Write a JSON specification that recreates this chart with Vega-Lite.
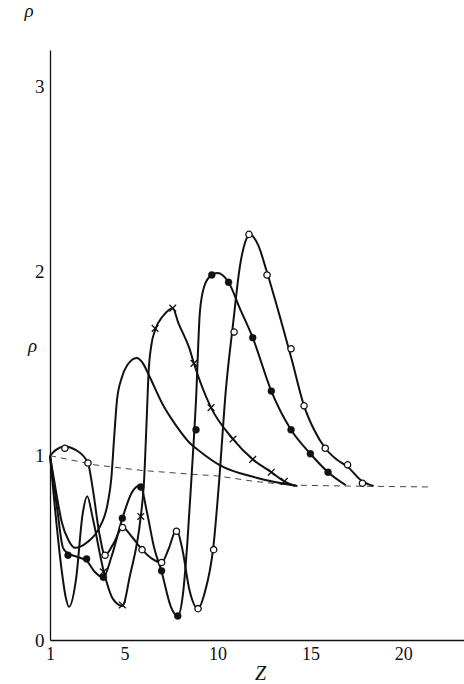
{
  "$schema": "https://vega.github.io/schema/vega-lite/v6.json",
  "width": 414,
  "height": 590,
  "autosize": {"type": "none"},
  "padding": {"left": 50, "top": 50, "right": 0, "bottom": 44},
  "background": "white",
  "title": {
    "text": "ρ",
    "frame": "group",
    "anchor": "start",
    "align": "center",
    "baseline": "alphabetic",
    "dx": -21,
    "offset": 14,
    "font": "Liberation Serif",
    "fontStyle": "italic",
    "fontWeight": "normal",
    "fontSize": 19,
    "color": "#111"
  },
  "config": {"view": {"stroke": null}},
  "datasets": {
    "curves": [
      {"series": "open", "z": 1, "rho": 1.0},
      {"series": "open", "z": 1.3, "rho": 1.03},
      {"series": "open", "z": 1.8, "rho": 1.05},
      {"series": "open", "z": 2.4, "rho": 1.03},
      {"series": "open", "z": 3.04, "rho": 0.96},
      {"series": "open", "z": 3.3, "rho": 0.82},
      {"series": "open", "z": 3.65, "rho": 0.58},
      {"series": "open", "z": 3.96, "rho": 0.46},
      {"series": "open", "z": 4.4, "rho": 0.52},
      {"series": "open", "z": 4.9, "rho": 0.61},
      {"series": "open", "z": 5.4, "rho": 0.56},
      {"series": "open", "z": 5.95, "rho": 0.49},
      {"series": "open", "z": 6.5, "rho": 0.44},
      {"series": "open", "z": 7.0, "rho": 0.42},
      {"series": "open", "z": 7.4, "rho": 0.5},
      {"series": "open", "z": 7.8, "rho": 0.6},
      {"series": "open", "z": 8.1, "rho": 0.5},
      {"series": "open", "z": 8.5, "rho": 0.27},
      {"series": "open", "z": 8.96, "rho": 0.17},
      {"series": "open", "z": 9.3, "rho": 0.25},
      {"series": "open", "z": 9.8, "rho": 0.52},
      {"series": "open", "z": 10.1, "rho": 0.87},
      {"series": "open", "z": 10.45, "rho": 1.35},
      {"series": "open", "z": 10.85, "rho": 1.72},
      {"series": "open", "z": 11.2, "rho": 2.02},
      {"series": "open", "z": 11.5, "rho": 2.16},
      {"series": "open", "z": 11.75, "rho": 2.2},
      {"series": "open", "z": 12.2, "rho": 2.14},
      {"series": "open", "z": 12.65, "rho": 2.0},
      {"series": "open", "z": 13.4, "rho": 1.74},
      {"series": "open", "z": 14.0, "rho": 1.52},
      {"series": "open", "z": 14.66, "rho": 1.27},
      {"series": "open", "z": 15.2, "rho": 1.14},
      {"series": "open", "z": 15.8, "rho": 1.04},
      {"series": "open", "z": 16.4, "rho": 0.98},
      {"series": "open", "z": 17.0, "rho": 0.94},
      {"series": "open", "z": 17.8, "rho": 0.86},
      {"series": "open", "z": 18.4, "rho": 0.835},

      {"series": "filled", "z": 1, "rho": 1.0},
      {"series": "filled", "z": 1.4, "rho": 0.7},
      {"series": "filled", "z": 1.7, "rho": 0.5},
      {"series": "filled", "z": 1.97, "rho": 0.47},
      {"series": "filled", "z": 2.5, "rho": 0.45},
      {"series": "filled", "z": 2.97, "rho": 0.43},
      {"series": "filled", "z": 3.4, "rho": 0.37},
      {"series": "filled", "z": 3.87, "rho": 0.34},
      {"series": "filled", "z": 4.3, "rho": 0.45},
      {"series": "filled", "z": 4.89, "rho": 0.66},
      {"series": "filled", "z": 5.4, "rho": 0.8},
      {"series": "filled", "z": 5.85, "rho": 0.84},
      {"series": "filled", "z": 6.2, "rho": 0.7},
      {"series": "filled", "z": 6.6, "rho": 0.5},
      {"series": "filled", "z": 7.0, "rho": 0.37},
      {"series": "filled", "z": 7.5, "rho": 0.18},
      {"series": "filled", "z": 7.87, "rho": 0.13},
      {"series": "filled", "z": 8.15, "rho": 0.25},
      {"series": "filled", "z": 8.4, "rho": 0.55},
      {"series": "filled", "z": 8.6, "rho": 0.87},
      {"series": "filled", "z": 8.85, "rho": 1.3},
      {"series": "filled", "z": 9.06, "rho": 1.78},
      {"series": "filled", "z": 9.3, "rho": 1.92},
      {"series": "filled", "z": 9.7, "rho": 1.98},
      {"series": "filled", "z": 10.0, "rho": 1.99},
      {"series": "filled", "z": 10.6, "rho": 1.94},
      {"series": "filled", "z": 11.2, "rho": 1.8},
      {"series": "filled", "z": 11.9, "rho": 1.64},
      {"series": "filled", "z": 12.9, "rho": 1.35},
      {"series": "filled", "z": 13.96, "rho": 1.14},
      {"series": "filled", "z": 15.0, "rho": 1.01},
      {"series": "filled", "z": 15.95, "rho": 0.91},
      {"series": "filled", "z": 16.9, "rho": 0.84},

      {"series": "cross", "z": 1, "rho": 1.0},
      {"series": "cross", "z": 1.3, "rho": 0.68},
      {"series": "cross", "z": 1.6, "rho": 0.4},
      {"series": "cross", "z": 1.85, "rho": 0.23},
      {"series": "cross", "z": 2.02, "rho": 0.18},
      {"series": "cross", "z": 2.4, "rho": 0.33},
      {"series": "cross", "z": 2.75, "rho": 0.68},
      {"series": "cross", "z": 3.0, "rho": 0.78},
      {"series": "cross", "z": 3.3, "rho": 0.66},
      {"series": "cross", "z": 3.87, "rho": 0.38},
      {"series": "cross", "z": 4.4, "rho": 0.22},
      {"series": "cross", "z": 4.89, "rho": 0.185},
      {"series": "cross", "z": 5.3, "rho": 0.35},
      {"series": "cross", "z": 5.88, "rho": 0.67},
      {"series": "cross", "z": 6.05, "rho": 0.85},
      {"series": "cross", "z": 6.2, "rho": 1.2},
      {"series": "cross", "z": 6.3, "rho": 1.45},
      {"series": "cross", "z": 6.45, "rho": 1.6},
      {"series": "cross", "z": 6.65, "rho": 1.68},
      {"series": "cross", "z": 7.1, "rho": 1.76},
      {"series": "cross", "z": 7.6, "rho": 1.8},
      {"series": "cross", "z": 7.9, "rho": 1.72},
      {"series": "cross", "z": 8.5, "rho": 1.58},
      {"series": "cross", "z": 8.74, "rho": 1.5},
      {"series": "cross", "z": 9.66, "rho": 1.26},
      {"series": "cross", "z": 10.84, "rho": 1.09},
      {"series": "cross", "z": 11.9, "rho": 0.98},
      {"series": "cross", "z": 12.9, "rho": 0.91},
      {"series": "cross", "z": 13.6, "rho": 0.86},
      {"series": "cross", "z": 14.2, "rho": 0.835},

      {"series": "plain", "z": 1, "rho": 1.0},
      {"series": "plain", "z": 1.3, "rho": 0.82},
      {"series": "plain", "z": 1.63, "rho": 0.64},
      {"series": "plain", "z": 2.0, "rho": 0.54},
      {"series": "plain", "z": 2.35, "rho": 0.5},
      {"series": "plain", "z": 3.0, "rho": 0.53},
      {"series": "plain", "z": 3.6, "rho": 0.6},
      {"series": "plain", "z": 4.1, "rho": 0.74},
      {"series": "plain", "z": 4.3, "rho": 0.88},
      {"series": "plain", "z": 4.45, "rho": 1.1},
      {"series": "plain", "z": 4.6, "rho": 1.3},
      {"series": "plain", "z": 4.85, "rho": 1.42},
      {"series": "plain", "z": 5.15, "rho": 1.49},
      {"series": "plain", "z": 5.66, "rho": 1.53},
      {"series": "plain", "z": 6.0, "rho": 1.5},
      {"series": "plain", "z": 6.3, "rho": 1.44},
      {"series": "plain", "z": 7.1, "rho": 1.27},
      {"series": "plain", "z": 7.8, "rho": 1.16},
      {"series": "plain", "z": 8.5, "rho": 1.07},
      {"series": "plain", "z": 9.1, "rho": 1.02},
      {"series": "plain", "z": 10.1, "rho": 0.95},
      {"series": "plain", "z": 12.1, "rho": 0.88},
      {"series": "plain", "z": 14.3, "rho": 0.835}
    ],
    "observed": [
      {"series": "open", "z": 1.8, "rho": 1.04},
      {"series": "open", "z": 3.04, "rho": 0.96},
      {"series": "open", "z": 3.96, "rho": 0.46},
      {"series": "open", "z": 4.9, "rho": 0.61},
      {"series": "open", "z": 5.95, "rho": 0.49},
      {"series": "open", "z": 7.0, "rho": 0.42},
      {"series": "open", "z": 7.8, "rho": 0.59},
      {"series": "open", "z": 8.96, "rho": 0.17},
      {"series": "open", "z": 9.8, "rho": 0.49},
      {"series": "open", "z": 10.9, "rho": 1.67},
      {"series": "open", "z": 11.7, "rho": 2.2},
      {"series": "open", "z": 12.67, "rho": 1.98},
      {"series": "open", "z": 13.96, "rho": 1.58},
      {"series": "open", "z": 14.66, "rho": 1.27},
      {"series": "open", "z": 15.8, "rho": 1.04},
      {"series": "open", "z": 17.0, "rho": 0.95},
      {"series": "open", "z": 17.8, "rho": 0.85},

      {"series": "filled", "z": 1.97, "rho": 0.46},
      {"series": "filled", "z": 2.97, "rho": 0.44},
      {"series": "filled", "z": 3.87, "rho": 0.34},
      {"series": "filled", "z": 4.89, "rho": 0.66},
      {"series": "filled", "z": 5.88, "rho": 0.83},
      {"series": "filled", "z": 7.0, "rho": 0.375},
      {"series": "filled", "z": 7.87, "rho": 0.13},
      {"series": "filled", "z": 8.85, "rho": 1.14},
      {"series": "filled", "z": 9.7, "rho": 1.98},
      {"series": "filled", "z": 10.6, "rho": 1.94},
      {"series": "filled", "z": 11.9, "rho": 1.64},
      {"series": "filled", "z": 12.9, "rho": 1.35},
      {"series": "filled", "z": 13.96, "rho": 1.14},
      {"series": "filled", "z": 15.0, "rho": 1.01},
      {"series": "filled", "z": 15.95, "rho": 0.91},

      {"series": "cross", "z": 3.87, "rho": 0.37},
      {"series": "cross", "z": 4.89, "rho": 0.19},
      {"series": "cross", "z": 5.88, "rho": 0.67},
      {"series": "cross", "z": 6.65, "rho": 1.69},
      {"series": "cross", "z": 7.6, "rho": 1.8},
      {"series": "cross", "z": 8.74, "rho": 1.5},
      {"series": "cross", "z": 9.66, "rho": 1.26},
      {"series": "cross", "z": 10.84, "rho": 1.09},
      {"series": "cross", "z": 11.9, "rho": 0.98},
      {"series": "cross", "z": 12.9, "rho": 0.91},
      {"series": "cross", "z": 13.6, "rho": 0.86}
    ],
    "limit": [
      {"z": 1, "rho": 1.0},
      {"z": 3.4, "rho": 0.95},
      {"z": 5.9, "rho": 0.92},
      {"z": 8.5, "rho": 0.9},
      {"z": 10, "rho": 0.89},
      {"z": 12, "rho": 0.86},
      {"z": 14, "rho": 0.84},
      {"z": 17, "rho": 0.835},
      {"z": 21.4, "rho": 0.83}
    ]
  },
  "encoding": {
    "x": {
      "field": "z",
      "type": "quantitative",
      "scale": {"domain": [1, 23.26], "nice": false, "zero": false},
      "axis": {
        "values": [1, 5, 10, 15, 20],
        "ticks": false,
        "grid": false,
        "domainColor": "#111",
        "domainWidth": 1.3,
        "labelFont": "Liberation Serif",
        "labelFontSize": 18,
        "labelColor": "#111",
        "labelPadding": 5,
        "labelFlush": false,
        "labelOverlap": false,
        "labelBound": false,
        "title": "Z",
        "titleFont": "Liberation Serif",
        "titleFontStyle": "italic",
        "titleFontWeight": "normal",
        "titleFontSize": 20,
        "titleColor": "#111",
        "titleAlign": "center",
        "titleBaseline": "alphabetic",
        "titleX": 210,
        "titleY": 39
      }
    },
    "y": {
      "field": "rho",
      "type": "quantitative",
      "scale": {"domain": [0, 3.2], "nice": false, "zero": false},
      "axis": {
        "values": [0, 1, 2, 3],
        "ticks": false,
        "grid": false,
        "domainColor": "#111",
        "domainWidth": 1.3,
        "labelFont": "Liberation Serif",
        "labelFontSize": 19,
        "labelColor": "#111",
        "labelPadding": 6,
        "labelFlush": false,
        "labelOverlap": false,
        "labelBound": false,
        "title": "ρ",
        "titleAngle": 0,
        "titleFont": "Liberation Serif",
        "titleFontStyle": "italic",
        "titleFontWeight": "normal",
        "titleFontSize": 19,
        "titleColor": "#111",
        "titleAlign": "center",
        "titleBaseline": "alphabetic",
        "titleX": -18,
        "titleY": 301
      }
    }
  },
  "layer": [
    {
      "data": {"name": "limit"},
      "mark": {"type": "line", "color": "#444", "strokeWidth": 1, "strokeDash": [6, 5]}
    },
    {
      "data": {"name": "curves"},
      "mark": {"type": "line", "color": "#111", "strokeWidth": 2, "interpolate": "monotone"},
      "encoding": {"detail": {"field": "series"}}
    },
    {
      "data": {"name": "observed"},
      "transform": [{"filter": "datum.series === 'open'"}],
      "mark": {"type": "point", "shape": "circle", "size": 40, "filled": true, "fill": "white", "stroke": "#111", "strokeWidth": 1.3, "opacity": 1}
    },
    {
      "data": {"name": "observed"},
      "transform": [{"filter": "datum.series === 'filled'"}],
      "mark": {"type": "point", "shape": "circle", "size": 48, "filled": true, "fill": "#111", "stroke": "#111", "strokeWidth": 0.5, "opacity": 1}
    },
    {
      "data": {"name": "observed"},
      "transform": [{"filter": "datum.series === 'cross'"}],
      "mark": {"type": "point", "shape": "M-1,-1L1,1M-1,1L1,-1", "size": 45, "filled": false, "stroke": "#111", "strokeWidth": 1.3, "opacity": 1}
    },
    {
      "data": {"values": [{"z": 5}, {"z": 10}, {"z": 15}, {"z": 20}]},
      "mark": {"type": "rule", "color": "#222", "strokeWidth": 1.2},
      "encoding": {"y": {"datum": 0}, "y2": {"datum": 0.04}}
    },
    {
      "data": {"values": [{"rho": 2}, {"rho": 3}]},
      "mark": {"type": "rule", "color": "#333", "strokeWidth": 1, "strokeDash": [3, 2]},
      "encoding": {"x": {"datum": 1}, "x2": {"datum": 1.7}}
    },
    {
      "data": {"values": [{}]},
      "mark": {"type": "point", "shape": "M0,-1L0.33,1L-0.33,1Z", "size": 225, "filled": true, "fill": "#111", "strokeWidth": 0, "opacity": 1},
      "encoding": {"x": {"datum": 1}, "y": {"datum": 3.16}}
    },
    {
      "data": {"values": [{}]},
      "mark": {"type": "point", "shape": "M1,0L-1,0.33L-1,-0.33Z", "size": 256, "filled": true, "fill": "#111", "strokeWidth": 0, "opacity": 1},
      "encoding": {"x": {"datum": 22.77}, "y": {"datum": 0}}
    }
  ]
}
